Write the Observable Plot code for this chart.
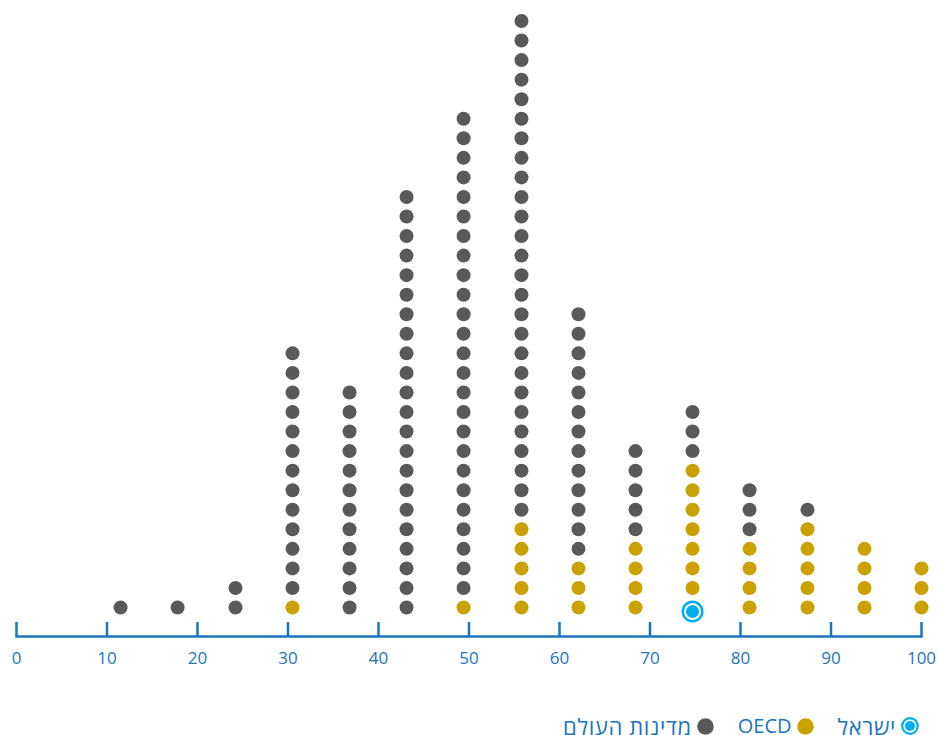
<!DOCTYPE html>
<html>
<head>
<meta charset="utf-8">
<script src="https://cdn.jsdelivr.net/npm/d3@7"></script>
<script src="https://cdn.jsdelivr.net/npm/@observablehq/plot@0.6"></script>
<style>
  html, body { margin: 0; background: #fff; font-family: "Open Sans", sans-serif; overflow: hidden; }
  #legend { direction: rtl; display: flex; padding-right: 19px; padding-top: 27px; height: 18px; align-items: center; color: #1b75bb; font-size: 20px; line-height: 18px; }
  .item { display: flex; align-items: center; gap: 5px; margin-left: 24px; }
  .item svg { display: block; }
  .he { font-family: "Open Sans", sans-serif; font-size: 22px; letter-spacing: 0.6px; line-height: 18px; }
</style>
</head>
<body>
<div id="chart"></div>
<div id="legend"></div>
<script>
// Score columns (x positions)
const columns      = [11.5, 17.8, 24.2, 30.5, 36.8, 43.1, 49.4, 55.8, 62.1, 68.4, 74.7, 81.0, 87.4, 93.7, 100];
// Number of dots per column for each group (stacked bottom→top: Israel, OECD, world)
const israelCounts = [0, 0, 0, 0, 0, 0, 0, 0, 0, 0, 1, 0, 0, 0, 0];
const oecdCounts   = [0, 0, 0, 1, 0, 0, 1, 5, 3, 4, 7, 4, 5, 4, 3];
const worldCounts  = [1, 1, 2, 13, 12, 22, 25, 26, 13, 5, 3, 3, 1, 0, 0];
const xTicks       = [0, 10, 20, 30, 40, 50, 60, 70, 80, 90, 100];
const groupKeys    = ["israel", "oecd", "world"];
const groupLabels  = ["ישראל", "OECD", "מדינות העולם"];
const groupColors  = ["#00aeef", "#c9a100", "#58595b"];

const blue = "#1b75bb";

const rows = [];
columns.forEach((x, i) => {
  let slot = 0;
  const counts = [israelCounts[i], oecdCounts[i], worldCounts[i]];
  counts.forEach((n, g) => {
    for (let k = 0; k < n; k++) rows.push({x, slot: slot++, group: groupKeys[g]});
  });
});
const israelRows = rows.filter(d => d.group === "israel");
const otherRows = rows.filter(d => d.group !== "israel");

const step = 19.55;
const plot = Plot.plot({
  width: 938,
  height: 690,
  marginLeft: 16,
  marginRight: 17,
  marginTop: 0,
  marginBottom: 54,
  style: { fontFamily: "Open Sans", fontSize: "17px", color: blue, background: "#fff" },
  x: { domain: [0, 100], label: null },
  y: { domain: [0, 30], range: [607, 607 - 30 * step], axis: null },
  color: { domain: groupKeys, range: groupColors },
  marks: [
    Plot.frame({ anchor: "bottom", stroke: blue, strokeWidth: 2.5 }),
    Plot.axisX(xTicks, { tickSize: -14, tickPadding: 29, stroke: blue, fill: blue, strokeWidth: 2.5, fontSize: 17, label: null }),
    Plot.dot(otherRows, { x: "x", y: "slot", r: 7, fill: "group" }),
    Plot.dot(israelRows, { x: "x", y: "slot", dy: 4, r: 9.8, fill: "white", stroke: "group", strokeWidth: 2.4 }),
    Plot.dot(israelRows, { x: "x", y: "slot", dy: 4, r: 6.5, fill: "group" })
  ]
});
document.getElementById("chart").appendChild(plot);

// Legend (HTML, right-to-left)
const legend = document.getElementById("legend");
groupKeys.forEach((key, i) => {
  const item = document.createElement("div");
  item.className = "item";
  let marker;
  if (key === "israel") {
    marker = `<svg width="18" height="18"><circle cx="9" cy="9" r="7.8" fill="white" stroke="${groupColors[i]}" stroke-width="2.2"/><circle cx="9" cy="9" r="5" fill="${groupColors[i]}"/></svg>`;
  } else {
    marker = `<svg width="17" height="17"><circle cx="8.5" cy="8.5" r="8.3" fill="${groupColors[i]}"/></svg>`;
  }
  const cls = /[\u0590-\u05FF]/.test(groupLabels[i]) ? "he" : "";
  item.innerHTML = marker + `<span class="${cls}">${groupLabels[i]}</span>`;
  legend.appendChild(item);
});
</script>
</body>
</html>
